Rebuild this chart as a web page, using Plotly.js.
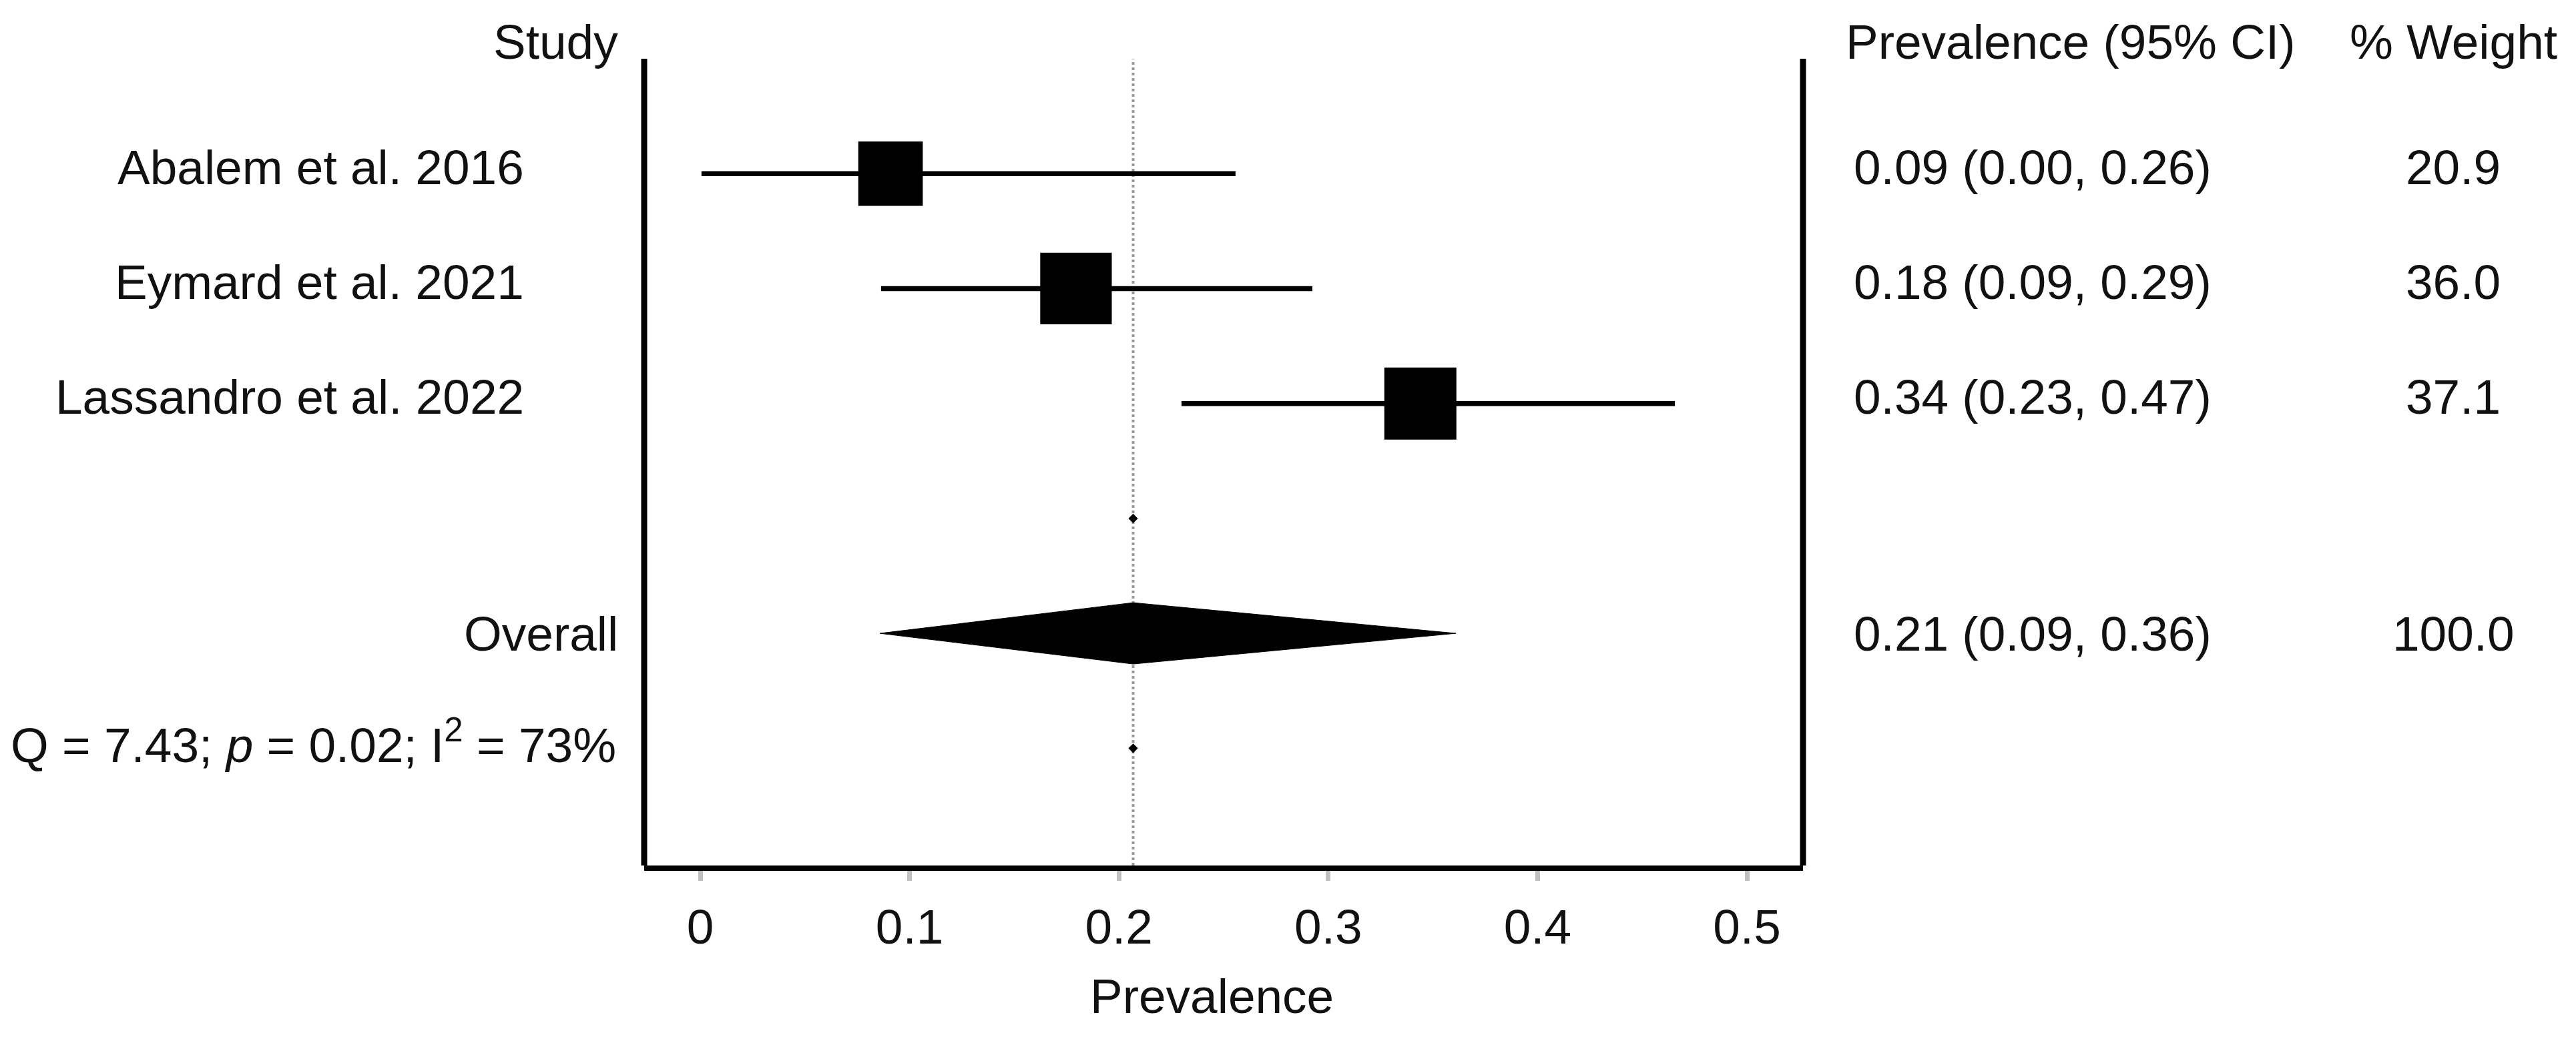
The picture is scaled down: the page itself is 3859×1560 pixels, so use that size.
<!DOCTYPE html>
<html>
<head>
<meta charset="utf-8">
<script src="https://cdn.plot.ly/plotly-3.0.1.min.js"></script>
<style>html,body{margin:0;padding:0;background:#fff;}#chart{width:3859px;height:1560px;}</style>
</head>
<body>
<div id="chart"></div>
<script>
// ---- data ----
const studies = ["Abalem et al. 2016", "Eymard et al. 2021", "Lassandro et al. 2022"];
const estimate = [0.0909, 0.1795, 0.344];
const ciLow = [0.0006, 0.0864, 0.2299];
const ciHigh = [0.2557, 0.2924, 0.4656];
const ciText = ["0.09 (0.00, 0.26)", "0.18 (0.09, 0.29)", "0.34 (0.23, 0.47)"];
const weights = [20.9, 36.0, 37.1];
const weightText = ["20.9", "36.0", "37.1"];
const overallEst = 0.2068;
const overallLow = 0.0858;
const overallHigh = 0.361;
const overallCIText = "0.21 (0.09, 0.36)";
const overallWeightText = "100.0";
const hetText = "Q = 7.43; <i>p</i> = 0.02; I<sup>2</sup> = 73%";
const tickVals = [0, 0.1, 0.2, 0.3, 0.4, 0.5];
const tickLabels = ["0", "0.1", "0.2", "0.3", "0.4", "0.5"];

// ---- layout geometry (style) ----
const W = 3859, H = 1560;
const plotL = 965, plotR = 2701, plotT = 88, plotB = 1297;
const FONT = "Liberation Sans, Arial, Helvetica, sans-serif";
const FS = 73;
const rowsStudy = studies.map((_, i) => i + 1);
const rowOverall = 5, rowHet = 6, rowGap = 4;
const yMax = 7.02;
const diamondHalf = 0.267;
const px2paperX = p => (p - plotL) / (plotR - plotL);
const px2paperY = p => (plotB - p) / (plotB - plotT);

// whiskers
const wx = [], wy = [];
studies.forEach((s, i) => { wx.push(ciLow[i], ciHigh[i], null); wy.push(rowsStudy[i], rowsStudy[i], null); });

const traces = [
  {x: wx, y: wy, mode: 'lines', type: 'scatter', line: {color: '#000', width: 7.5}, hoverinfo: 'skip', showlegend: false},
  {x: estimate, y: rowsStudy, mode: 'markers', type: 'scatter',
   marker: {symbol: 'square', color: '#000', opacity: 1, size: weights.map(w => 82 + 0.7 * w), line: {width: 0}}, showlegend: false},
  {x: [overallLow, overallEst, overallHigh, overallEst, overallLow],
   y: [rowOverall, rowOverall - diamondHalf, rowOverall, rowOverall + diamondHalf, rowOverall],
   mode: 'lines', type: 'scatter', fill: 'toself', fillcolor: '#000', line: {color: '#000', width: 1}, showlegend: false},
  {x: [overallEst, overallEst], y: [rowGap, rowHet], mode: 'markers', type: 'scatter',
   marker: {symbol: 'diamond', color: '#000', opacity: 1, size: 11}, showlegend: false}
];

const ann = [];
const base = {showarrow: false, font: {family: FONT, size: FS, color: '#111'}};
const studyShift = 10;
// headers
ann.push(Object.assign({}, base, {text: 'Study', xref: 'paper', yref: 'paper', x: px2paperX(928), y: px2paperY(62), xanchor: 'right', yanchor: 'middle'}));
ann.push(Object.assign({}, base, {text: 'Prevalence (95% CI)', xref: 'paper', yref: 'paper', x: px2paperX(2763), y: px2paperY(62), xanchor: 'left', yanchor: 'middle'}));
ann.push(Object.assign({}, base, {text: '% Weight', xref: 'paper', yref: 'paper', x: px2paperX(3675), y: px2paperY(62), xanchor: 'center', yanchor: 'middle'}));
studies.forEach((s, i) => {
  ann.push(Object.assign({}, base, {text: s, xref: 'paper', yref: 'y', x: px2paperX(787), y: rowsStudy[i], yshift: studyShift, xanchor: 'right', yanchor: 'middle'}));
  ann.push(Object.assign({}, base, {text: ciText[i], xref: 'paper', yref: 'y', x: px2paperX(2775), y: rowsStudy[i], yshift: studyShift, xanchor: 'left', yanchor: 'middle'}));
  ann.push(Object.assign({}, base, {text: weightText[i], xref: 'paper', yref: 'y', x: px2paperX(3675), y: rowsStudy[i], yshift: studyShift, xanchor: 'center', yanchor: 'middle'}));
});
ann.push(Object.assign({}, base, {text: 'Overall', xref: 'paper', yref: 'y', x: px2paperX(928), y: rowOverall, xanchor: 'right', yanchor: 'middle'}));
ann.push(Object.assign({}, base, {text: overallCIText, xref: 'paper', yref: 'y', x: px2paperX(2775), y: rowOverall, xanchor: 'left', yanchor: 'middle'}));
ann.push(Object.assign({}, base, {text: overallWeightText, xref: 'paper', yref: 'y', x: px2paperX(3675), y: rowOverall, xanchor: 'center', yanchor: 'middle'}));
ann.push(Object.assign({}, base, {text: hetText, xref: 'paper', yref: 'y', x: px2paperX(925), y: rowHet - 0.06, xanchor: 'right', yanchor: 'middle'}));
// x-axis title
ann.push(Object.assign({}, base, {text: 'Prevalence', xref: 'paper', yref: 'paper', x: px2paperX(1815), y: px2paperY(1492), xanchor: 'center', yanchor: 'middle'}));

const shapes = [
  {type: 'line', xref: 'paper', yref: 'paper', x0: 0, x1: 0, y0: 0, y1: 1, line: {color: '#000', width: 9}},
  {type: 'line', xref: 'paper', yref: 'paper', x0: 1, x1: 1, y0: 0, y1: 1, line: {color: '#000', width: 9}},
  {type: 'line', xref: 'x', yref: 'paper', x0: overallEst, x1: overallEst, y0: 0, y1: 1, layer: 'below', line: {color: '#999999', width: 4, dash: 'dot'}}
];

const layout = {
  width: W, height: H,
  margin: {l: plotL, r: W - plotR, t: plotT, b: H - plotB, pad: 0},
  paper_bgcolor: '#fff', plot_bgcolor: '#fff',
  showlegend: false,
  font: {family: FONT, size: FS, color: '#111'},
  xaxis: {
    range: [(plotL - 1049) / 3136, (plotR - 1049) / 3136],
    tickvals: tickVals, ticktext: tickLabels,
    ticks: 'outside', ticklen: 15, tickwidth: 7, tickcolor: '#c0c0c0',
    showline: true, linecolor: '#000', linewidth: 8,
    showgrid: false, zeroline: false,
    tickfont: {family: FONT, size: FS, color: '#111'},
    ticklabelstandoff: 6,
    fixedrange: true
  },
  yaxis: {range: [yMax, 0], visible: false, showgrid: false, zeroline: false, fixedrange: true},
  annotations: ann,
  shapes: shapes
};

Plotly.newPlot('chart', traces, layout, {staticPlot: true, displayModeBar: false});
</script>
</body>
</html>
